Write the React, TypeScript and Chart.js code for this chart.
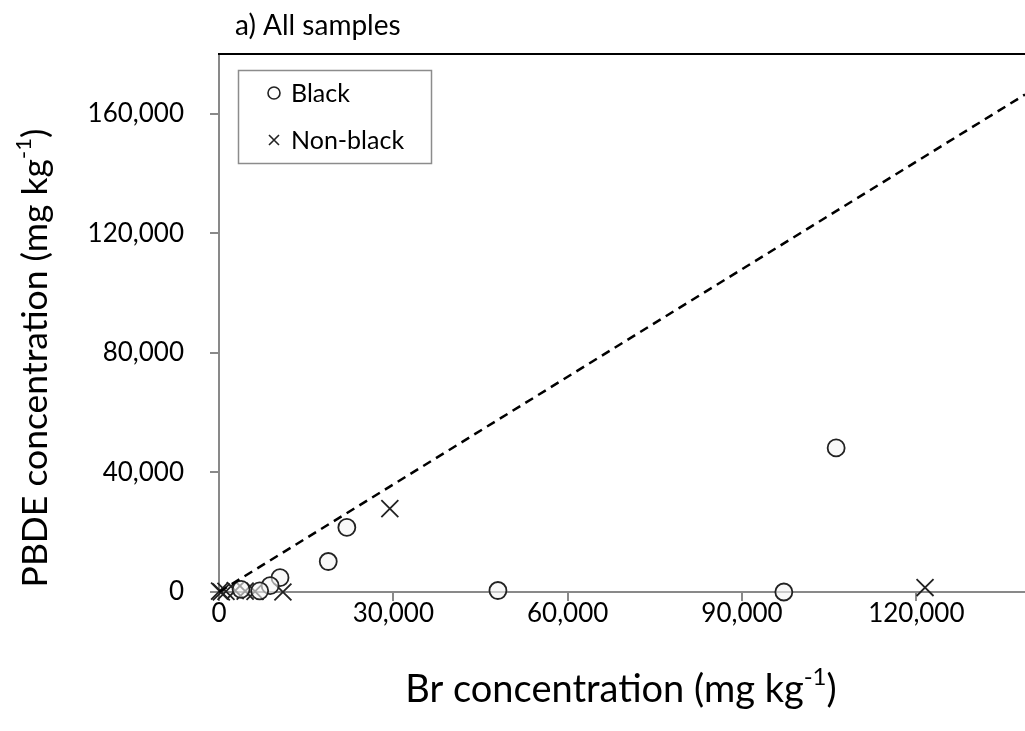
import React, { useEffect, useRef } from "react";
import { Chart, registerables } from "chart.js";

Chart.register(...registerables);

// Data (mg/kg)
const blackBr = [106200, 97200, 48000, 22000, 18800, 10500, 8800, 7000, 3800];
const blackPBDE = [48200, 0, 500, 21600, 10200, 4800, 2100, 400, 900];
const nonBlackBr = [29400, 121500, 11000, 6200, 4500, 2800, 1200, 400, 100];
const nonBlackPBDE = [27900, 1500, 0, 200, 300, 500, 200, 0, 300];
const lineBr = [0, 138700];
const lineRatio = 1.2;
const xTickValues = [0, 30000, 60000, 90000, 120000];
const yTickValues = [0, 40000, 80000, 120000, 160000];
const xMax = 138700;
const yMax = 180000;

const FONT = "Lato, 'Noto Sans', sans-serif";

function drawSupLabel(
  ctx: CanvasRenderingContext2D,
  main: string,
  sup: string,
  tail: string,
  cx: number,
  cy: number,
  size: number
) {
  const supSize = Math.round(size * 0.62);
  ctx.font = `${size}px ${FONT}`;
  const w1 = ctx.measureText(main).width;
  const w3 = ctx.measureText(tail).width;
  ctx.font = `${supSize}px ${FONT}`;
  const w2 = ctx.measureText(sup).width;
  const total = w1 + w2 + w3;
  let x = cx - total / 2;
  ctx.textBaseline = "middle";
  ctx.textAlign = "left";
  ctx.font = `${size}px ${FONT}`;
  ctx.fillText(main, x, cy);
  x += w1;
  ctx.font = `${supSize}px ${FONT}`;
  ctx.fillText(sup, x, cy - size * 0.33);
  x += w2;
  ctx.font = `${size}px ${FONT}`;
  ctx.fillText(tail, x, cy);
}

const overlayPlugin = {
  id: "overlay",
  afterDraw(chart: any) {
    const ctx: CanvasRenderingContext2D = chart.ctx;
    const { left, top } = chart.chartArea;
    ctx.save();
    // top frame line
    ctx.strokeStyle = "#000";
    ctx.lineWidth = 2;
    ctx.beginPath();
    ctx.moveTo(left - 1, top);
    ctx.lineTo(chart.width, top);
    ctx.stroke();

    ctx.fillStyle = "#000";
    // title
    ctx.font = `28px ${FONT}`;
    ctx.textAlign = "left";
    ctx.textBaseline = "middle";
    ctx.fillText("a) All samples", 235, 26);

    // x axis title
    drawSupLabel(ctx, "Br concentration (mg kg", "-1", ")", 621, 690, 38);

    // y axis title
    ctx.save();
    ctx.translate(36, 358);
    ctx.rotate(-Math.PI / 2);
    drawSupLabel(ctx, "PBDE concentration (mg kg", "-1", ")", 0, 0, 35.5);
    ctx.restore();

    // legend
    ctx.strokeStyle = "#8c8c8c";
    ctx.lineWidth = 1.5;
    ctx.strokeRect(238.5, 70.5, 193, 93);
    ctx.strokeStyle = "#222";
    ctx.lineWidth = 1.6;
    ctx.beginPath();
    ctx.arc(274, 93, 6, 0, Math.PI * 2);
    ctx.stroke();
    ctx.beginPath();
    ctx.moveTo(269, 135);
    ctx.lineTo(279, 145);
    ctx.moveTo(279, 135);
    ctx.lineTo(269, 145);
    ctx.stroke();
    ctx.fillStyle = "#000";
    ctx.font = `25px ${FONT}`;
    ctx.textAlign = "left";
    ctx.textBaseline = "middle";
    ctx.fillText("Black", 291, 94);
    ctx.fillText("Non-black", 291, 141);
    ctx.restore();
  },
};

const toTicks = (vals: number[]) => vals.map((value) => ({ value }));

export default function App() {
  const ref = useRef<HTMLCanvasElement | null>(null);
  useEffect(() => {
    if (!ref.current) return;
    const black = blackBr.map((x, i) => ({ x, y: blackPBDE[i] }));
    const nonBlack = nonBlackBr.map((x, i) => ({ x, y: nonBlackPBDE[i] }));
    const line = lineBr.map((x) => ({ x, y: x * lineRatio }));
    const chart = new Chart(ref.current, {
      type: "scatter",
      data: {
        datasets: [
          {
            label: "1.2 line",
            data: line,
            showLine: true,
            borderColor: "#000",
            borderWidth: 2.5,
            borderDash: [9, 6],
            pointRadius: 0,
            clip: false,
          } as any,
          {
            label: "Black",
            data: black,
            pointStyle: "circle",
            pointRadius: 8.5,
            pointBorderWidth: 1.8,
            borderColor: "#222",
            backgroundColor: "rgba(245,245,245,0.6)",
            clip: false,
          } as any,
          {
            label: "Non-black",
            data: nonBlack,
            pointStyle: "crossRot",
            pointRadius: 12,
            pointBorderWidth: 1.8,
            borderColor: "#222",
            backgroundColor: "#222",
            clip: false,
          } as any,
        ],
      },
      options: {
        responsive: false,
        animation: false,
        devicePixelRatio: 1,
        layout: { autoPadding: false, padding: { top: 54, right: 0, left: 0, bottom: 0 } },
        plugins: {
          legend: { display: false },
          tooltip: { enabled: false },
          title: { display: false },
        },
        scales: {
          x: {
            type: "linear",
            min: 0,
            max: xMax,
            afterBuildTicks: (s: any) => {
              s.ticks = toTicks(xTickValues);
            },
            afterFit: (s: any) => {
              s.height = 139;
              s.paddingLeft = 0;
              s.paddingRight = 0;
            },
            border: { display: true, color: "#898989", width: 2 },
            grid: {
              display: true,
              drawOnChartArea: false,
              drawTicks: true,
              tickLength: 9,
              color: "#898989",
              lineWidth: 2,
            },
            ticks: {
              padding: -3,
              color: "#000",
              font: { family: FONT, size: 26 },
              maxRotation: 0,
              autoSkip: false,
              callback: (v: any) => Number(v).toLocaleString("en-US"),
            },
          },
          y: {
            type: "linear",
            min: 0,
            max: yMax,
            afterBuildTicks: (s: any) => {
              s.ticks = toTicks(yTickValues);
            },
            afterFit: (s: any) => {
              s.width = 219;
              s.paddingTop = 0;
              s.paddingBottom = 0;
            },
            border: { display: true, color: "#898989", width: 2 },
            grid: {
              display: true,
              drawOnChartArea: false,
              drawTicks: true,
              tickLength: 9,
              color: "#898989",
              lineWidth: 2,
            },
            ticks: {
              padding: 26,
              color: "#000",
              autoSkip: false,
              font: { family: FONT, size: 26 },
              callback: (v: any) => Number(v).toLocaleString("en-US"),
            },
          },
        },
      } as any,
      plugins: [overlayPlugin],
    });
    return () => chart.destroy();
  }, []);
  return (
    <div style={{ position: "fixed", left: 0, top: 0, width: 1025, height: 731, background: "#fff" }}>
      <canvas ref={ref} width={1025} height={731} style={{ display: "block" }} />
    </div>
  );
}
